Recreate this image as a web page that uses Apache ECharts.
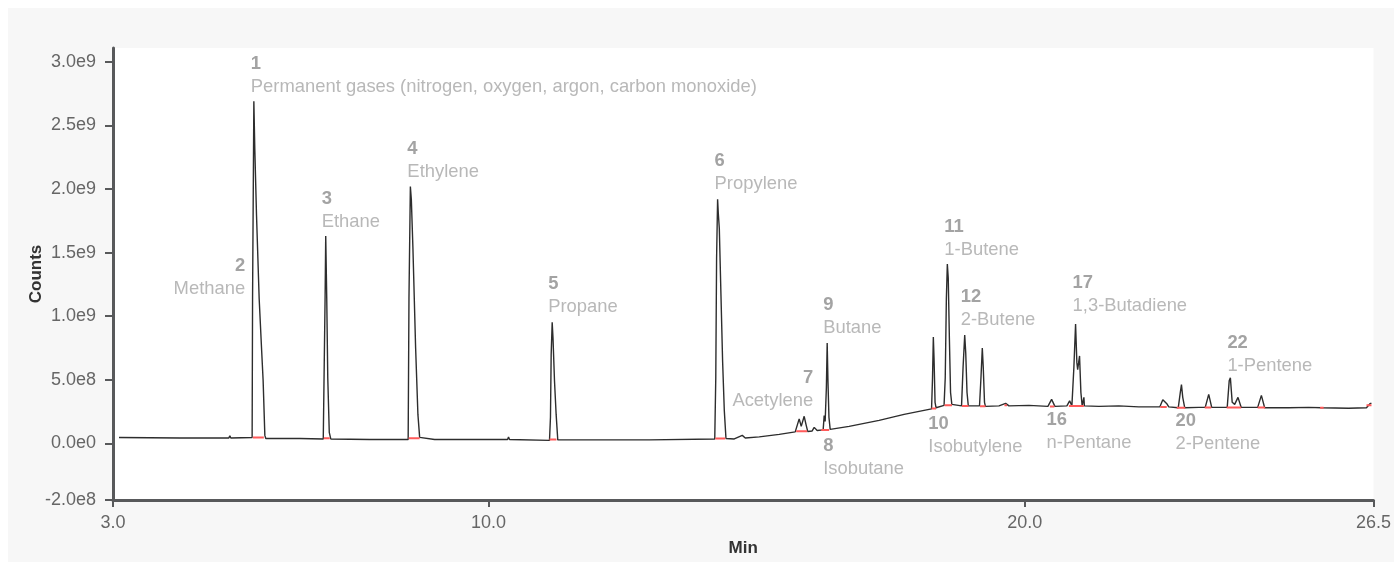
<!DOCTYPE html>
<html>
<head>
<meta charset="utf-8">
<script src="https://cdn.jsdelivr.net/npm/echarts@6/dist/echarts.min.js"></script>
<style>
    html, body { margin: 0; padding: 0; background: #ffffff; }
    #chart { position: absolute; left: 8px; top: 8px; width: 1386px; height: 554px; }
</style>
</head>
<body>
<div id="chart"></div>
<script>
// detector trace, [retention time (min), counts]
var traceEarly = [
    [3.112, 4.7e7], [4.248, 4.3e7], [5.160, 4.3e7], [5.179, 5.9e7], [5.197, 4.3e7], [5.594, 4.7e7],
    [5.602, 1.14e9], [5.626, 2.69e9], [5.644, 2.31e9], [5.676, 1.79e9], [5.725, 1.14e9], [5.769, 7.5e8],
    [5.799, 4.92e8], [5.831, 6.3e7], [5.849, 3.9e7],
    [6.482, 3.9e7], [6.920, 3.5e7], [6.935, 3.9e7],
    [6.954, 1.14e9], [6.966, 1.63e9], [6.985, 1.14e9], [7.004, 5.16e8], [7.032, 8.7e7], [7.060, 3.5e7],
    [7.786, 3.1e7], [8.503, 3.1e7],
    [8.518, 1.14e9], [8.544, 2.02e9], [8.562, 1.92e9], [8.592, 1.53e9], [8.642, 7.5e8], [8.685, 2.26e8],
    [8.717, 4.7e7], [8.735, 3.5e7], [8.996, 3.1e7]
];
var traceMid = [
    [10.356, 3.1e7], [10.374, 5.1e7], [10.393, 3.1e7], [11.138, 2.4e7],
    [11.156, 2.05e8], [11.169, 6.95e8], [11.188, 9.53e8], [11.203, 8.3e8], [11.231, 4.92e8], [11.262, 2.26e8], [11.292, 2.8e7],
    [13.000, 2.8e7], [13.019, 3.5e7], [14.219, 3.5e7],
    [14.238, 5.16e8], [14.253, 1.45e9], [14.272, 1.92e9], [14.285, 1.81e9], [14.304, 1.69e9], [14.335, 1.16e9],
    [14.365, 6.5e8], [14.397, 2.58e8], [14.428, 3.9e7],
    [14.583, 3.5e7], [14.732, 6.3e7], [14.788, 4.3e7], [15.048, 5.1e7], [15.421, 7.1e7], [15.719, 9.1e7],
    [15.756, 1.42e8], [15.793, 1.93e8], [15.831, 1.34e8], [15.886, 2.13e8], [15.924, 1.42e8], [15.952, 9.4e7],
    [16.035, 9.8e7], [16.073, 1.26e8], [16.128, 1.02e8], [16.240, 1.06e8],
    [16.259, 2.2e8], [16.277, 1.73e8], [16.300, 4.4e8], [16.315, 7.9e8], [16.330, 4.8e8], [16.348, 2.05e8], [16.371, 1.1e8],
    [16.724, 1.34e8]
];
var traceLate = [
    [17.283, 1.81e8], [17.749, 2.28e8], [18.028, 2.52e8], [18.261, 2.72e8],
    [18.279, 5.16e8], [18.294, 8.37e8], [18.307, 6.72e8], [18.326, 3.23e8], [18.345, 2.8e8],
    [18.494, 2.99e8],
    [18.516, 5.16e8], [18.537, 1.14e9], [18.555, 1.41e9], [18.572, 1.3e9], [18.593, 8.3e8], [18.615, 4.0e8], [18.639, 3.07e8],
    [18.820, 2.95e8],
    [18.848, 5.95e8], [18.879, 8.52e8], [18.898, 7.12e8], [18.922, 4.0e8], [18.946, 2.95e8],
    [19.155, 2.95e8],
    [19.182, 5.16e8], [19.207, 7.5e8], [19.225, 5.95e8], [19.248, 3.23e8], [19.266, 2.91e8],
    [19.518, 2.95e8], [19.642, 3.15e8], [19.704, 2.95e8], [20.076, 2.99e8], [20.430, 2.91e8],
    [20.499, 3.46e8], [20.561, 2.91e8], [20.784, 2.95e8], [20.835, 3.35e8], [20.877, 2.95e8],
    [20.914, 5.95e8], [20.946, 9.38e8], [20.970, 6.35e8], [20.985, 5.8e8], [21.020, 6.88e8], [21.045, 4.0e8], [21.069, 2.95e8],
    [21.091, 2.99e8], [21.101, 3.62e8], [21.110, 2.95e8],
    [21.380, 2.91e8], [21.752, 2.95e8], [22.125, 2.87e8], [22.516, 2.87e8], [22.572, 3.43e8], [22.652, 3.09e8],
    [22.683, 2.87e8], [22.860, 2.8e8],
    [22.898, 4.0e8], [22.920, 4.62e8], [22.944, 3.62e8], [22.981, 2.8e8],
    [23.242, 2.83e8], [23.363, 2.83e8], [23.428, 3.86e8], [23.484, 2.83e8], [23.773, 2.83e8],
    [23.810, 4.92e8], [23.832, 5.16e8], [23.866, 3.23e8], [23.912, 3.07e8], [23.974, 3.62e8], [24.034, 2.83e8],
    [24.341, 2.83e8], [24.410, 3.78e8], [24.471, 2.8e8], [24.918, 2.8e8], [25.291, 2.83e8], [25.533, 2.8e8],
    [26.035, 2.76e8], [26.370, 2.8e8], [26.439, 3.15e8], [26.463, 3.15e8]
];

// integration baselines drawn in red under the peaks
var intStart = [5.607, 6.929, 8.512, 11.138, 14.229, 15.737, 16.203, 18.261, 18.503, 18.829, 19.164,
    19.620, 20.467, 20.821, 22.525, 22.832, 23.354, 23.763, 24.341, 25.505, 26.370];
var intEnd = [5.812, 7.041, 8.717, 11.268, 14.415, 15.942, 16.352, 18.345, 18.642, 18.950, 19.266,
    19.667, 20.551, 21.101, 22.646, 22.990, 23.475, 24.034, 24.480, 25.570, 26.463];
var intLevel = [4.7e7, 4.0e7, 4.0e7, 3.1e7, 3.9e7, 9.6e7, 1.06e8, 2.75e8, 3.0e8, 2.95e8, 2.93e8,
    3.0e8, 2.9e8, 2.95e8, 2.87e8, 2.8e8, 2.83e8, 2.83e8, 2.83e8, 2.8e8, 3.0e8];

// peak annotations
var peakNo = ['1', '2', '3', '4', '5', '6', '7', '8', '9', '10', '11', '12', '16', '17', '20', '22'];
var peakName = ['Permanent gases (nitrogen, oxygen, argon, carbon monoxide)', 'Methane', 'Ethane', 'Ethylene',
    'Propane', 'Propylene', 'Acetylene', 'Isobutane', 'Butane', 'Isobutylene', '1-Butene', '2-Butene',
    'n-Pentane', '1,3-Butadiene', '2-Pentene', '1-Pentene'];
var peakMin = [5.626, 5.725, 6.966, 8.544, 11.188, 14.272, 15.886, 16.259, 16.315, 18.294, 18.555, 18.879,
    20.499, 20.946, 22.920, 23.832];
var peakCounts = [2.69e9, 1.14e9, 1.63e9, 2.02e9, 9.53e8, 1.92e9, 2.13e8, 2.2e8, 7.9e8, 8.37e8, 1.41e9, 8.52e8,
    3.46e8, 9.38e8, 4.62e8, 5.16e8];

// axis ticks
var xTickValues = [3.0, 10.0, 20.0, 26.5];
var yTickValues = [-4.45e8, 0, 5e8, 1e9, 1.5e9, 2e9, 2.5e9, 3e9];
var yTickLabels = ['-2.0e8', '0.0e0', '5.0e8', '1.0e9', '1.5e9', '2.0e9', '2.5e9', '3.0e9'];

// label placement in pixels from the peak apex: [dx, dy, align]
var labelLayout = [
    [-3, -49, 'left'], [-14, -44, 'right'], [-4, -49, 'left'], [-3, -49, 'left'],
    [-4, -50, 'left'], [-3, -50, 'left'], [9, -50, 'right'], [-1, 19, 'left'],
    [-4, -50, 'left'], [-5, 75, 'left'], [-3, -49, 'left'], [-4, -50, 'left'],
    [-5, 9, 'left'], [-3, -53, 'left'], [-6, 25, 'left'], [-3, -46, 'left']
];

var FONT = '"Liberation Sans", Arial, Helvetica, sans-serif';
var AXIS_COLOR = '#58595b';
var TEXT_SIZE = 18.4;

var intData = [];
for (var i = 0; i < intStart.length; i++) {
    intData.push([intStart[i], intLevel[i]]);
    intData.push([intEnd[i], intLevel[i]]);
    intData.push([intEnd[i] + 0.001, '-']);
}

var labelData = peakNo.map(function (no, i) {
    var lay = labelLayout[i];
    var right = lay[2] === 'right';
    return {
        value: [peakMin[i], peakCounts[i]],
        label: {
            position: [lay[0] + 1, lay[1] + 1],
            align: lay[2],
            formatter: right ? '{nr|' + no + '}\n{tr|' + peakName[i] + '}'
                             : '{n|' + no + '}\n{t|' + peakName[i] + '}'
        }
    };
});

var chart = echarts.init(document.getElementById('chart'));
var option = {
    animation: false,
    backgroundColor: '#f7f7f7',
    grid: {
        left: 105, right: 19, top: 40, bottom: 59,
        show: true, backgroundColor: '#ffffff', borderWidth: 0
    },
    xAxis: {
        type: 'value',
        min: 3, max: 26.5,
        name: 'Min',
        nameLocation: 'middle',
        nameGap: 40,
        nameMoveOverlap: false,
        nameTextStyle: { fontFamily: FONT, fontSize: 17, fontWeight: 'bold', color: '#333' },
        axisLine: { onZero: false, lineStyle: { color: AXIS_COLOR, width: 3 } },
        axisTick: { show: true, customValues: xTickValues, length: 7, lineStyle: { color: AXIS_COLOR, width: 2 } },
        axisLabel: {
            customValues: xTickValues,
            margin: 14,
            fontFamily: FONT, fontSize: 18, color: '#666',
            formatter: function (v) { return v.toFixed(1); }
        },
        splitLine: { show: false }
    },
    yAxis: {
        type: 'value',
        min: -4.45e8, max: 3.109e9,
        name: 'Counts',
        nameLocation: 'middle',
        nameGap: 68,
        nameMoveOverlap: false,
        nameTextStyle: { fontFamily: FONT, fontSize: 17, fontWeight: 'bold', color: '#333' },
        axisLine: { show: true, onZero: false, lineStyle: { color: AXIS_COLOR, width: 3 } },
        axisTick: { show: true, customValues: yTickValues, length: 8, lineStyle: { color: AXIS_COLOR, width: 2 } },
        axisLabel: {
            customValues: yTickValues,
            margin: 17,
            fontFamily: FONT, fontSize: 18, color: '#666',
            formatter: function (v) {
                var k = yTickValues.indexOf(v);
                return k >= 0 ? yTickLabels[k] : '';
            }
        },
        splitLine: { show: false }
    },
    series: [
        {
            name: 'signal',
            type: 'line',
            data: traceEarly.concat(traceMid, traceLate),
            symbol: 'none',
            sampling: 'none',
            lineStyle: { color: '#2d2d2d', width: 1.4 },
            z: 2
        },
        {
            name: 'integration',
            type: 'line',
            data: intData,
            symbol: 'none',
            connectNulls: false,
            lineStyle: { color: '#ff5a5a', width: 2 },
            z: 3
        },
        {
            name: 'labels',
            type: 'scatter',
            data: labelData,
            symbolSize: 2,
            silent: true,
            itemStyle: { color: 'rgba(0,0,0,0)' },
            label: {
                show: true,
                verticalAlign: 'top',
                fontFamily: FONT,
                rich: {
                    n: { fontFamily: FONT, fontSize: TEXT_SIZE, fontWeight: 'bold', color: '#8c8c8c', lineHeight: 23, align: 'left' },
                    t: { fontFamily: FONT, fontSize: TEXT_SIZE, color: '#a6a6a6', lineHeight: 23, align: 'left' },
                    nr: { fontFamily: FONT, fontSize: TEXT_SIZE, fontWeight: 'bold', color: '#8c8c8c', lineHeight: 23, align: 'right' },
                    tr: { fontFamily: FONT, fontSize: TEXT_SIZE, color: '#a6a6a6', lineHeight: 23, align: 'right' }
                }
            },
            z: 4
        }
    ]
};
chart.setOption(option);
</script>
</body>
</html>
